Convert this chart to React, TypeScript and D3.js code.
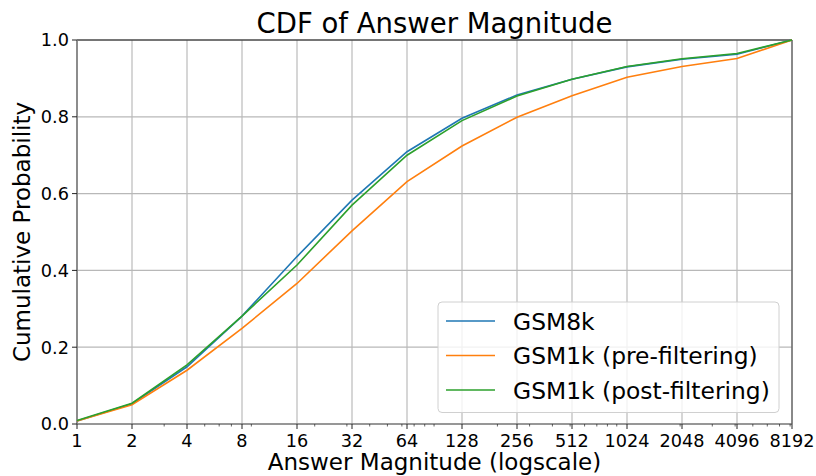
import * as d3 from "d3";

// answer magnitudes (x, log scale) and cumulative probabilities per dataset
const magnitudes = [1, 2, 4, 8, 16, 32, 64, 128, 256, 512, 1024, 2048, 4096, 8192];
const gsm8k = [0.008, 0.053, 0.149, 0.281, 0.436, 0.583, 0.709, 0.796, 0.857, 0.898, 0.930, 0.950, 0.963, 1.0];
const gsm1kPre = [0.008, 0.050, 0.140, 0.249, 0.366, 0.503, 0.631, 0.724, 0.799, 0.855, 0.903, 0.931, 0.952, 1.0];
const gsm1kPost = [0.009, 0.054, 0.154, 0.281, 0.414, 0.570, 0.700, 0.790, 0.854, 0.898, 0.931, 0.951, 0.965, 1.0];
const yTicks = [0, 0.2, 0.4, 0.6, 0.8, 1.0];

const seriesNames = ["GSM8k", "GSM1k (pre-filtering)", "GSM1k (post-filtering)"];
const seriesColours = ["#1f77b4", "#ff7f0e", "#2ca02c"];
const seriesValues = [gsm8k, gsm1kPre, gsm1kPost];

const W = 816;
const H = 476;
const margin = { left: 77, right: 24, top: 40, bottom: 52 };
const font = "DejaVu Sans, sans-serif";

export default function App() {
  const x = d3
    .scaleLog()
    .base(2)
    .domain([1, 8192])
    .range([margin.left, W - margin.right]);
  const y = d3
    .scaleLinear()
    .domain([0, 1])
    .range([H - margin.bottom, margin.top]);

  const [x0, x1] = x.range();
  const [yb, yt] = y.range();

  // matplotlib-style log10 minor ticks left over after the base-2 majors
  const minorTicks: number[] = [];
  for (let p = 1; p <= 1000; p *= 10) {
    for (let s = 2; s <= 9; s++) {
      const v = s * p;
      if (v <= 8192 && !magnitudes.includes(v)) minorTicks.push(v);
    }
  }

  const line = d3
    .line<number>()
    .x((_, i) => x(magnitudes[i]))
    .y((d) => y(d));

  const legendX = 438;
  const legendY = 302;
  const legendRow = 34.5;

  return (
    <svg
      width={W}
      height={H}
      style={{ position: "absolute", left: 0, top: 0, background: "#fff" }}
      fontFamily={font}
    >
      {/* grid */}
      {magnitudes.map((m) => (
        <line key={"vg" + m} x1={x(m)} x2={x(m)} y1={yb} y2={yt} stroke="#d6d6d6" strokeWidth={2} />
      ))}
      {yTicks.map((t) => (
        <line key={"hg" + t} x1={x0} x2={x1} y1={y(t)} y2={y(t)} stroke="#b8b8b8" strokeWidth={1.2} />
      ))}

      {/* spines */}
      <line x1={x0} x2={x1} y1={yt} y2={yt} stroke="#111" strokeWidth={1} />
      <line x1={x0} x2={x1} y1={yb} y2={yb} stroke="#555" strokeWidth={1.2} />
      <line x1={x0} x2={x0} y1={yt} y2={yb} stroke="#7a7a7a" strokeWidth={1.6} />
      <line x1={x1} x2={x1} y1={yt} y2={yb} stroke="#555" strokeWidth={1.2} />

      {/* series */}
      {seriesValues.map((vals, i) => (
        <path key={seriesNames[i]} d={line(vals) ?? ""} fill="none" stroke={seriesColours[i]} strokeWidth={1.6} />
      ))}

      {/* x axis */}
      {magnitudes.map((m) => (
        <g key={"xt" + m}>
          <line x1={x(m)} x2={x(m)} y1={yb} y2={yb + 5} stroke="#222" strokeWidth={1} />
          <text x={x(m)} y={446.5} textAnchor="middle" fontSize={17.7} fill="#000">
            {m}
          </text>
        </g>
      ))}
      {minorTicks.map((m) => (
        <line key={"mt" + m} x1={x(m)} x2={x(m)} y1={yb} y2={yb + 2.5} stroke="#222" strokeWidth={0.7} />
      ))}

      {/* y axis */}
      {yTicks.map((t) => (
        <g key={"yt" + t}>
          <line x1={x0 - 5} x2={x0} y1={y(t)} y2={y(t)} stroke="#222" strokeWidth={1} />
          <text x={69} y={y(t) + 6.4} textAnchor="end" fontSize={17.7} fill="#000">
            {t.toFixed(1)}
          </text>
        </g>
      ))}

      {/* labels */}
      <text x={(x0 + x1) / 2} y={32.5} textAnchor="middle" fontSize={27.5} fill="#000">
        CDF of Answer Magnitude
      </text>
      <text x={(x0 + x1) / 2} y={470} textAnchor="middle" fontSize={23} fill="#000">
        Answer Magnitude (logscale)
      </text>
      <text
        transform={`translate(29.5, ${(yt + yb) / 2}) rotate(-90)`}
        textAnchor="middle"
        fontSize={23}
        fill="#000"
      >
        Cumulative Probability
      </text>

      {/* legend */}
      <rect
        x={legendX}
        y={legendY}
        width={341}
        height={110.5}
        rx={4}
        fill="#fff"
        fillOpacity={0.8}
        stroke="#d0d0d0"
        strokeWidth={1}
      />
      {seriesNames.map((name, i) => {
        const ly = legendY + 19 + i * legendRow;
        return (
          <g key={"lg" + name}>
            <line x1={446} x2={495} y1={ly} y2={ly} stroke={seriesColours[i]} strokeWidth={1.6} />
            <text x={513} y={ly + 8.6} fontSize={23.4} fill="#000">
              {name}
            </text>
          </g>
        );
      })}
    </svg>
  );
}
